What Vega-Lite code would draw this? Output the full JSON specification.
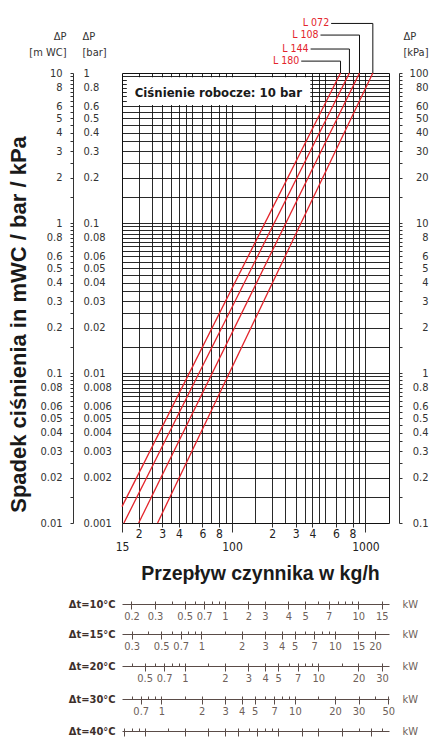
{
  "$schema": "https://vega.github.io/schema/vega-lite/v6.json",
  "width": 267,
  "height": 450,
  "autosize": {"type": "none"},
  "padding": {"left": 122, "top": 73, "right": 48, "bottom": 215},
  "background": "white",
  "config": {
    "view": {"stroke": "#111111", "strokeWidth": 1},
    "font": "Liberation Sans Narrow, DejaVu Sans Condensed, Roboto Condensed, sans-serif",
    "axis": {
      "labelFont": "Liberation Sans Narrow, DejaVu Sans Condensed, Roboto Condensed, sans-serif",
      "titleFont": "Liberation Sans Narrow, DejaVu Sans Condensed, Roboto Condensed, sans-serif",
      "labelOverlap": false,
      "labelFlush": false,
      "labelBound": false,
      "grid": false,
      "labelColor": "#333333",
      "tickColor": "#333333",
      "domainColor": "#333333",
      "titleFontWeight": "normal",
      "zindex": 1
    }
  },
  "datasets": {
    "curves": [
      {"model": "L 180", "flow": 15, "dp": 0.01285},
      {"model": "L 180", "flow": 650, "dp": 10},
      {"model": "L 144", "flow": 15.5, "dp": 0.01},
      {"model": "L 144", "flow": 758, "dp": 10},
      {"model": "L 108", "flow": 20, "dp": 0.01},
      {"model": "L 108", "flow": 902, "dp": 10},
      {"model": "L 072", "flow": 27.7, "dp": 0.01},
      {"model": "L 072", "flow": 1135, "dp": 10}
    ],
    "leaders": [
      {"label": "L 072", "start": 553, "end": 1135, "level": 21.4},
      {"label": "L 108", "start": 460, "end": 902, "level": 17.9},
      {"label": "L 144", "start": 388, "end": 758, "level": 14.45},
      {"label": "L 180", "start": 330, "end": 650, "level": 12.0}
    ],
    "note": [{"text": "Ciśnienie robocze: 10 bar"}],
    "one": [{"k": 1}]
  },
  "resolve": {"scale": {"x": "independent"}, "axis": {"x": "independent", "y": "independent"}},
  "layer": [
    {
      "data": {"name": "curves"},
      "mark": {"type": "line", "color": "#e3242b", "strokeWidth": 1.3},
      "encoding": {
        "x": {
          "field": "flow", "type": "quantitative",
          "scale": {"type": "log", "domain": [15, 1500], "nice": false},
          "axis": {"orient": "bottom", "values": [20,25,30,35,40,45,50,60,70,80,90,100,150,200,250,300,350,400,450,500,600,700,800,900,1000],
                   "grid": true, "gridColor": "#111111", "gridWidth": 0.9, "gridOpacity": 1, "labels": false, "ticks": false, "domain": false, "title": null, "zindex": 0}
        },
        "y": {
          "field": "dp", "type": "quantitative",
          "scale": {"type": "log", "domain": [0.01, 10], "nice": false},
          "axis": {"orient": "left", "values": [0.015,0.02,0.025,0.03,0.035,0.04,0.045,0.05,0.055,0.06,0.065,0.07,0.075,0.08,0.085,0.09,0.095,0.1,0.15,0.2,0.25,0.3,0.35,0.4,0.45,0.5,0.55,0.6,0.65,0.7,0.75,0.8,0.85,0.9,0.95,1,1.5,2,2.5,3,3.5,4,4.5,5,5.5,6,6.5,7,7.5,8,8.5,9,9.5],
                   "grid": true, "gridColor": "#111111", "gridWidth": 0.9, "gridOpacity": 1, "labels": false, "ticks": false, "domain": false, "zindex": 0,
                   "title": "Spadek ciśnienia in mWC / bar / kPa", "titleAngle": -90, "titleX": -104, "titleY": 251, "titleAlign": "center", "titleBaseline": "middle",
                   "titleFont": "Liberation Sans, Arial, sans-serif", "titleFontSize": 22, "titleFontWeight": "bold", "titleColor": "#1a1a1a"}
        },
        "detail": {"field": "model", "type": "nominal"}
      }
    },
    {
      "data": {"name": "note"},
      "mark": {"type": "rect", "fill": "white", "stroke": null},
      "encoding": {
        "x": {
          "datum": 16.3, "type": "quantitative",
          "scale": {"type": "log", "domain": [15, 1500], "nice": false},
          "axis": {"orient": "bottom", "values": [20,30,40,60,80,200,300,400,600,800], "tickSize": 4, "labelPadding": 1.5, "labelFontSize": 12, "labelColor": "#222222",
                   "labelExpr": "format(datum.value / pow(10, floor(log(datum.value) / LN10 + 1e-6)), '.2~g')", "domain": false,
                   "title": "Przepływ czynnika w kg/h", "titleX": 138, "titleY": 50, "titleAlign": "center", "titleBaseline": "middle", "titleAngle": 0,
                   "titleFont": "Liberation Sans, Arial, sans-serif", "titleFontSize": 19.5, "titleFontWeight": "bold", "titleColor": "#1a1a1a"}
        },
        "x2": {"datum": 386},
        "y": {
          "datum": 9.36, "type": "quantitative",
          "scale": {"type": "log", "domain": [0.01, 10], "nice": false},
          "axis": {"orient": "left", "offset": 49, "values": [0.01,0.015,0.02,0.025,0.03,0.035,0.04,0.045,0.05,0.055,0.06,0.065,0.07,0.075,0.08,0.085,0.09,0.095,0.1,0.15,0.2,0.25,0.3,0.35,0.4,0.45,0.5,0.55,0.6,0.65,0.7,0.75,0.8,0.85,0.9,0.95,1,1.5,2,2.5,3,3.5,4,4.5,5,5.5,6,6.5,7,7.5,8,8.5,9,9.5,10],
                   "tickSize": 3, "labelPadding": 8, "labelFontSize": 11,
                   "labelExpr": "indexof([1,2,3,4,5,6,8], round(datum.value / pow(10, floor(log(datum.value) / LN10 + 1e-6)) * 10) / 10) >= 0 ? format(datum.value, '.3~g') : ''",
                   "title": ["ΔP", "[m WC]"], "titleAngle": 0, "titleX": -7, "titleY": -34, "titleAlign": "right", "titleBaseline": "alphabetic",
                   "titleFontSize": 11, "titleLineHeight": 16, "titleColor": "#333333"}
        },
        "y2": {"datum": 6.12}
      }
    },
    {
      "data": {"name": "note"},
      "mark": {"type": "text", "align": "left", "baseline": "alphabetic", "fontSize": 13, "fontWeight": "bold", "color": "#1a1a1a"},
      "encoding": {
        "text": {"field": "text"},
        "x": {
          "datum": 18.7, "type": "quantitative",
          "scale": {"type": "log", "domain": [15, 1500], "nice": false},
          "axis": {"orient": "bottom", "values": [15, 100, 1000], "tickSize": 9, "labelPadding": 9.5, "labelFontSize": 12, "labelColor": "#222222",
                   "labelExpr": "format(datum.value, '.4~g')", "domain": false, "title": null}
        },
        "y": {
          "datum": 6.95, "type": "quantitative",
          "scale": {"type": "log", "domain": [0.01, 10], "nice": false},
          "axis": {"orient": "left", "offset": 49, "values": [0.01,0.02,0.03,0.04,0.05,0.06,0.08,0.1,0.2,0.3,0.4,0.5,0.6,0.8,1,2,3,4,5,6,8,10],
                   "ticks": false, "domain": false, "labelAlign": "left", "labelPadding": -10, "labelFontSize": 11,
                   "labelExpr": "format(datum.value / 10, '.3~g')",
                   "title": ["ΔP", "[bar]"], "titleAngle": 0, "titleX": 9, "titleY": -34, "titleAlign": "left", "titleBaseline": "alphabetic",
                   "titleFontSize": 11, "titleLineHeight": 16, "titleColor": "#333333"}
        }
      }
    },
    {
      "data": {"name": "leaders"},
      "mark": {"type": "rule", "color": "#111111", "strokeWidth": 1},
      "encoding": {
        "x": {"field": "start", "type": "quantitative", "scale": {"type": "log", "domain": [15, 1500], "nice": false}, "axis": null},
        "x2": {"field": "end"},
        "y": {
          "field": "level", "type": "quantitative",
          "scale": {"type": "log", "domain": [0.01, 10], "nice": false},
          "axis": {"orient": "right", "offset": 10, "values": [0.01,0.015,0.02,0.025,0.03,0.035,0.04,0.045,0.05,0.055,0.06,0.065,0.07,0.075,0.08,0.085,0.09,0.095,0.1,0.15,0.2,0.25,0.3,0.35,0.4,0.45,0.5,0.55,0.6,0.65,0.7,0.75,0.8,0.85,0.9,0.95,1,1.5,2,2.5,3,3.5,4,4.5,5,5.5,6,6.5,7,7.5,8,8.5,9,9.5,10],
                   "tickSize": 3, "labelAlign": "right", "labelPadding": 26, "labelFontSize": 11,
                   "labelExpr": "indexof([1,2,3,4,5,6,8], round(datum.value / pow(10, floor(log(datum.value) / LN10 + 1e-6)) * 10) / 10) >= 0 ? format(datum.value * 10, '.3~g') : ''",
                   "title": ["ΔP", "[kPa]"], "titleAngle": 0, "titleX": 4, "titleY": -34, "titleAlign": "left", "titleBaseline": "alphabetic",
                   "titleFontSize": 11, "titleLineHeight": 16, "titleColor": "#333333"}
        }
      }
    },
    {
      "data": {"name": "leaders"},
      "mark": {"type": "rule", "color": "#111111", "strokeWidth": 1},
      "encoding": {
        "x": {"field": "end", "type": "quantitative", "scale": {"type": "log", "domain": [15, 1500], "nice": false}, "axis": null},
        "y": {"field": "level", "type": "quantitative", "scale": {"type": "log", "domain": [0.01, 10], "nice": false}, "axis": null},
        "y2": {"datum": 10}
      }
    },
    {
      "data": {"name": "leaders"},
      "mark": {"type": "text", "align": "right", "baseline": "middle", "dx": -2, "fontSize": 10.5, "color": "#e3242b"},
      "encoding": {
        "text": {"field": "label"},
        "x": {"field": "start", "type": "quantitative", "scale": {"type": "log", "domain": [15, 1500], "nice": false}, "axis": null},
        "y": {"field": "level", "type": "quantitative", "scale": {"type": "log", "domain": [0.01, 10], "nice": false}, "axis": null}
      }
    },
    {
      "data": {"name": "one"},
      "mark": {"type": "point", "opacity": 0},
      "encoding": {"x": {"datum": 1, "type": "quantitative", "scale": {"type": "log", "domain": [0.1698, 16.98], "nice": false},
        "axis": {"orient": "bottom", "offset": 81, "values": [0.2,0.3,0.4,0.5,0.6,0.7,0.8,0.9,1,1.5,2,3,4,5,6,7,8,9,10,15], "labels": false, "tickSize": -3,
                 "domainColor": "#5a4c48", "tickColor": "#5a4c48", "title": "Δt=10°C", "titleX": -7, "titleY": 0, "titleAlign": "right", "titleBaseline": "middle", "titleAngle": 0,
                 "titleFontSize": 11, "titleFontWeight": "bold", "titleColor": "#3d2f2b"}}}
    },
    {
      "data": {"name": "one"},
      "mark": {"type": "point", "opacity": 0},
      "encoding": {"x": {"datum": 1, "type": "quantitative", "scale": {"type": "log", "domain": [0.1698, 16.98], "nice": false},
        "axis": {"orient": "bottom", "offset": 81, "values": [0.2,0.3,0.5,0.7,1,1.5,2,3,4,6,10,15], "domain": false, "tickSize": 5, "labelPadding": 1, "labelFontSize": 11,
                 "tickColor": "#5a4c48", "labelColor": "#6e5f5a",
                 "labelExpr": "datum.value == 1.5 ? '2' : datum.value == 2 ? '3' : datum.value == 3 ? '4' : datum.value == 4 ? '5' : datum.value == 6 ? '7' : format(datum.value, '.2~g')",
                 "title": "kW", "titleX": 280, "titleY": 0, "titleAlign": "left", "titleBaseline": "middle", "titleAngle": 0, "titleFontSize": 11, "titleColor": "#6e5f5a"}}}
    },
    {
      "data": {"name": "one"},
      "mark": {"type": "point", "opacity": 0},
      "encoding": {"x": {"datum": 1, "type": "quantitative", "scale": {"type": "log", "domain": [0.2543, 25.43], "nice": false},
        "axis": {"orient": "bottom", "offset": 111, "values": [0.3,0.4,0.5,0.6,0.7,0.8,0.9,1,1.5,2,3,4,5,6,7,8,9,10,15,20], "labels": false, "tickSize": -3,
                 "domainColor": "#5a4c48", "tickColor": "#5a4c48", "title": "Δt=15°C", "titleX": -7, "titleY": 0, "titleAlign": "right", "titleBaseline": "middle", "titleAngle": 0,
                 "titleFontSize": 11, "titleFontWeight": "bold", "titleColor": "#3d2f2b"}}}
    },
    {
      "data": {"name": "one"},
      "mark": {"type": "point", "opacity": 0},
      "encoding": {"x": {"datum": 1, "type": "quantitative", "scale": {"type": "log", "domain": [0.2543, 25.43], "nice": false},
        "axis": {"orient": "bottom", "offset": 111, "values": [0.3,0.5,0.7,1,2,3,4,5,7,10,15,20], "domain": false, "tickSize": 5, "labelPadding": 1, "labelFontSize": 11,
                 "tickColor": "#5a4c48", "labelColor": "#6e5f5a", "labelExpr": "format(datum.value, '.2~g')",
                 "title": "kW", "titleX": 280, "titleY": 0, "titleAlign": "left", "titleBaseline": "middle", "titleAngle": 0, "titleFontSize": 11, "titleColor": "#6e5f5a"}}}
    },
    {
      "data": {"name": "one"},
      "mark": {"type": "point", "opacity": 0},
      "encoding": {"x": {"datum": 1, "type": "quantitative", "scale": {"type": "log", "domain": [0.3387, 33.87], "nice": false},
        "axis": {"orient": "bottom", "offset": 143, "values": [0.4,0.5,0.6,0.7,0.8,0.9,1,1.5,2,3,4,5,6,7,8,9,10,15,20,30], "labels": false, "tickSize": -3,
                 "domainColor": "#5a4c48", "tickColor": "#5a4c48", "title": "Δt=20°C", "titleX": -7, "titleY": 0, "titleAlign": "right", "titleBaseline": "middle", "titleAngle": 0,
                 "titleFontSize": 11, "titleFontWeight": "bold", "titleColor": "#3d2f2b"}}}
    },
    {
      "data": {"name": "one"},
      "mark": {"type": "point", "opacity": 0},
      "encoding": {"x": {"datum": 1, "type": "quantitative", "scale": {"type": "log", "domain": [0.3387, 33.87], "nice": false},
        "axis": {"orient": "bottom", "offset": 143, "values": [0.5,0.7,1,2,3,4,5,7,10,20,30], "domain": false, "tickSize": 5, "labelPadding": 1, "labelFontSize": 11,
                 "tickColor": "#5a4c48", "labelColor": "#6e5f5a", "labelExpr": "format(datum.value, '.2~g')",
                 "title": "kW", "titleX": 280, "titleY": 0, "titleAlign": "left", "titleBaseline": "middle", "titleAngle": 0, "titleFontSize": 11, "titleColor": "#6e5f5a"}}}
    },
    {
      "data": {"name": "one"},
      "mark": {"type": "point", "opacity": 0},
      "encoding": {"x": {"datum": 1, "type": "quantitative", "scale": {"type": "log", "domain": [0.507, 50.7], "nice": false},
        "axis": {"orient": "bottom", "offset": 176, "values": [0.6,0.7,0.8,0.9,1,1.5,2,3,4,5,6,7,8,9,10,15,20,30,40,50], "labels": false, "tickSize": -3,
                 "domainColor": "#5a4c48", "tickColor": "#5a4c48", "title": "Δt=30°C", "titleX": -7, "titleY": 0, "titleAlign": "right", "titleBaseline": "middle", "titleAngle": 0,
                 "titleFontSize": 11, "titleFontWeight": "bold", "titleColor": "#3d2f2b"}}}
    },
    {
      "data": {"name": "one"},
      "mark": {"type": "point", "opacity": 0},
      "encoding": {"x": {"datum": 1, "type": "quantitative", "scale": {"type": "log", "domain": [0.507, 50.7], "nice": false},
        "axis": {"orient": "bottom", "offset": 176, "values": [0.7,1,2,3,4,5,7,10,20,30,50], "domain": false, "tickSize": 5, "labelPadding": 1, "labelFontSize": 11,
                 "tickColor": "#5a4c48", "labelColor": "#6e5f5a", "labelExpr": "format(datum.value, '.2~g')",
                 "title": "kW", "titleX": 280, "titleY": 0, "titleAlign": "left", "titleBaseline": "middle", "titleAngle": 0, "titleFontSize": 11, "titleColor": "#6e5f5a"}}}
    },
    {
      "data": {"name": "one"},
      "mark": {"type": "point", "opacity": 0},
      "encoding": {"x": {"datum": 1, "type": "quantitative", "scale": {"type": "log", "domain": [0.6765, 67.65], "nice": false},
        "axis": {"orient": "bottom", "offset": 208, "values": [0.7,0.8,0.9,1,1.5,2,3,4,5,6,7,8,9,10,15,20,30,40,50,60], "labels": false, "tickSize": -3,
                 "domainColor": "#5a4c48", "tickColor": "#5a4c48", "title": "Δt=40°C", "titleX": -7, "titleY": 0, "titleAlign": "right", "titleBaseline": "middle", "titleAngle": 0,
                 "titleFontSize": 11, "titleFontWeight": "bold", "titleColor": "#3d2f2b"}}}
    },
    {
      "data": {"name": "one"},
      "mark": {"type": "point", "opacity": 0},
      "encoding": {"x": {"datum": 1, "type": "quantitative", "scale": {"type": "log", "domain": [0.6765, 67.65], "nice": false},
        "axis": {"orient": "bottom", "offset": 208, "values": [0.7,1,2,3,4,5,7,10,15,20,30,50], "domain": false, "tickSize": 5, "labels": false,
                 "tickColor": "#5a4c48",
                 "title": "kW", "titleX": 280, "titleY": 0, "titleAlign": "left", "titleBaseline": "middle", "titleAngle": 0, "titleFontSize": 11, "titleColor": "#6e5f5a"}}}
    }
  ]
}
